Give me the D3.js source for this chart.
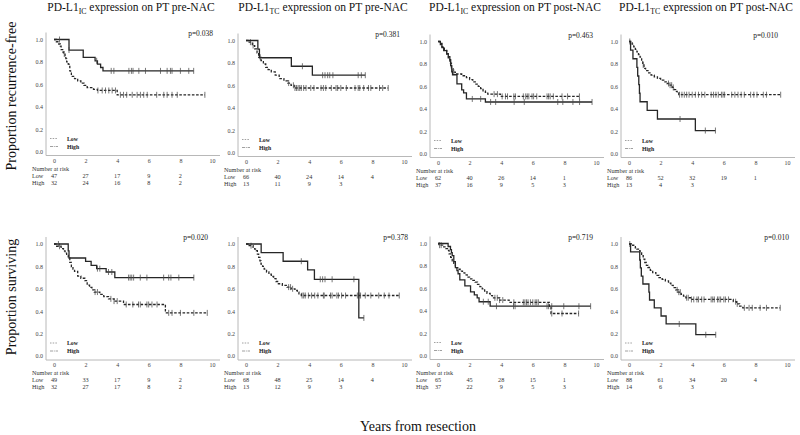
<!DOCTYPE html>
<html><head><meta charset="utf-8">
<script src="https://cdn.jsdelivr.net/npm/d3@7"></script>
<style>
body{margin:0;background:#fff;}
svg{display:block;font-family:"Liberation Serif","Times New Roman",serif;}
</style></head><body>
<svg id="c" width="800" height="435"></svg>
<script>
// ---------------- DATA ----------------
const titleSubs = ["IC","TC","IC","TC"];
const titleSuffix = [" expression on PT pre-NAC"," expression on PT pre-NAC"," expression on PT post-NAC"," expression on PT post-NAC"];
const rowTitles = ["Proportion recurrence-free","Proportion surviving"];
const xTitle = "Years from resection";
const pValues = ["p=0.038","p=0.381","p=0.463","p=0.010","p=0.020","p=0.378","p=0.719","p=0.010"];
const xTicks = [0,2,4,6,8,10];
const yTicks = [0,0.2,0.4,0.6,0.8,1.0];
const riskTimes = [0,2,4,6,8];
const groupNames = ["Low","High"];
const riskLow = [[47,27,17,9,2],[66,40,24,14,4],[62,40,26,14,1],[86,52,32,19,1],[49,33,17,9,2],[68,48,25,14,4],[65,45,28,15,1],[88,61,34,20,4]];
const riskHigh = [[32,24,16,8,2],[13,11,9,3],[37,16,9,5,3],[13,4,3],[32,27,17,8,2],[13,12,9,3],[37,22,9,5,3],[14,6,3]];

// step curves: [time of event, survival after event]; censor times
const p1Low = [[0.15,0.98],[0.3,0.96],[0.4,0.94],[0.45,0.91],[0.55,0.89],[0.6,0.87],[0.7,0.85],[0.75,0.83],[0.8,0.80],[0.9,0.78],[0.95,0.76],[1.0,0.72],[1.05,0.70],[1.1,0.67],[1.3,0.65],[1.5,0.63],[1.7,0.61],[1.9,0.59],[2.1,0.57],[2.5,0.555],[2.75,0.545],[4.0,0.506]];
const p1LowCens = [0.65,2.78,3.05,3.26,3.47,3.68,3.89,4.2,4.4,4.6,4.95,5.26,5.47,5.68,5.9,6.5,6.95,7.16,7.47,7.8,9.55];
const p1High = [[0.95,0.906],[1.85,0.84],[2.6,0.81],[2.75,0.78],[2.95,0.75],[3.1,0.72]];
const p1HighCens = [0.35,0.95,2.7,3.62,3.79,4.74,4.9,5.0,5.37,5.79,6.74,7.16,7.37,7.47,8.0,8.53,8.84];

const p2Low = [[0.2,0.985],[0.4,0.955],[0.55,0.925],[0.7,0.89],[0.8,0.85],[0.95,0.82],[1.1,0.79],[1.25,0.76],[1.4,0.74],[1.6,0.72],[1.85,0.69],[2.1,0.66],[2.4,0.64],[2.65,0.62],[2.85,0.6],[3.05,0.576]];
const p2LowCens = [0.28,0.45,0.9,2.7,3.0,3.1,3.2,3.3,3.4,3.5,3.65,3.8,4.1,4.3,4.75,4.9,5.05,5.4,5.7,5.8,6.0,6.35,6.9,7.1,7.2,7.45,7.75,7.9,8.45,8.65,9.0];
const p2High = [[0.75,0.923],[0.85,0.846],[2.87,0.77],[4.2,0.69]];
const p2HighCens = [3.57,4.85,5.0,5.17,5.3,5.5,7.1,7.3,7.55];

const p3Low = [[0.1,0.984],[0.25,0.952],[0.4,0.92],[0.55,0.887],[0.65,0.855],[0.75,0.806],[0.85,0.758],[0.95,0.726],[1.1,0.71],[1.5,0.694],[1.8,0.677],[2.0,0.66],[2.2,0.64],[2.4,0.62],[2.55,0.6],[2.7,0.58],[2.85,0.56],[3.0,0.545],[3.15,0.53],[3.95,0.51]];
const p3LowCens = [0.8,1.0,3.55,3.76,4.06,4.27,4.4,4.8,4.9,5.4,5.55,5.65,5.75,5.95,6.05,6.25,6.9,7.0,7.1,7.3,7.85,8.2,8.95];
const p3High = [[0.15,0.973],[0.25,0.946],[0.36,0.919],[0.55,0.892],[0.65,0.865],[0.75,0.838],[0.8,0.784],[0.87,0.73],[0.92,0.703],[1.2,0.622],[1.5,0.568],[1.62,0.541],[1.8,0.487],[3.0,0.46]];
const p3HighCens = [2.17,2.7,3.33,3.65,4.82,5.46,7.58,7.9,8.54,8.96,9.75];

const p4Low = [[0.1,0.988],[0.2,0.977],[0.3,0.953],[0.4,0.93],[0.5,0.907],[0.6,0.884],[0.7,0.86],[0.8,0.826],[0.87,0.79],[0.95,0.76],[1.05,0.74],[1.2,0.72],[1.4,0.70],[1.6,0.685],[1.8,0.67],[2.0,0.655],[2.2,0.64],[2.4,0.625],[2.6,0.61],[2.75,0.59],[2.85,0.57],[2.95,0.555],[3.05,0.54],[3.15,0.525]];
const p4LowCens = [0.05,0.9,2.5,2.6,2.7,2.8,3.2,3.35,3.5,3.65,3.8,4.0,4.2,4.4,4.6,4.8,5.2,5.35,5.5,5.65,5.85,5.95,6.05,6.5,6.7,6.9,7.1,7.3,7.7,7.9,8.1,8.5,8.7,9.6];
const p4High = [[0.1,0.923],[0.25,0.846],[0.5,0.769],[0.55,0.692],[0.62,0.615],[0.66,0.538],[0.7,0.462],[1.15,0.385],[1.8,0.308],[4.2,0.205]];
const p4HighCens = [3.23,4.83,5.47];

const p5Low = [[0.17,0.98],[0.45,0.959],[0.6,0.938],[0.7,0.918],[0.8,0.898],[0.9,0.877],[1.0,0.836],[1.1,0.795],[1.2,0.775],[1.3,0.755],[1.5,0.714],[1.7,0.694],[1.95,0.673],[2.1,0.632],[2.25,0.612],[2.4,0.591],[2.55,0.571],[2.9,0.55],[3.15,0.53],[3.45,0.51],[3.8,0.49],[4.4,0.46],[7.05,0.385]];
const p5LowCens = [0.35,2.6,2.75,3.6,3.8,4.0,4.57,4.99,5.35,5.46,5.88,5.99,6.2,6.52,7.26,7.47,8.0,8.85,9.7];
const p5High = [[0.9,0.938],[0.95,0.875],[2.0,0.844],[2.35,0.81],[2.7,0.78],[3.3,0.75],[3.85,0.70]];
const p5HighCens = [0.28,2.75,2.9,3.45,3.66,4.72,4.82,4.92,5.04,5.46,5.88,6.94,7.26,7.4,7.9,8.85];

const p6Low = [[0.2,0.985],[0.45,0.97],[0.55,0.955],[0.65,0.94],[0.72,0.91],[0.8,0.88],[0.88,0.85],[0.95,0.82],[1.05,0.8],[1.15,0.775],[1.3,0.75],[1.45,0.73],[1.6,0.71],[1.75,0.69],[1.9,0.665],[2.05,0.645],[2.3,0.63],[2.6,0.615],[2.85,0.6],[3.1,0.585],[3.25,0.57],[3.35,0.555],[3.5,0.54]];
const p6LowCens = [0.32,2.7,2.82,2.95,3.55,3.65,3.75,3.95,4.15,4.35,4.55,4.9,4.95,5.35,5.45,5.75,5.85,6.05,6.3,7.05,7.15,7.25,7.55,7.9,8.4,8.75,9.05,9.7];
const p6High = [[0.96,0.923],[2.35,0.846],[3.9,0.769],[4.33,0.685],[7.14,0.34]];
const p6HighCens = [3.5,4.7,4.85,5.0,5.45,6.83,7.46];

const p7Low = [[0.06,0.985],[0.3,0.97],[0.5,0.954],[0.6,0.938],[0.7,0.908],[0.8,0.877],[0.9,0.846],[1.0,0.815],[1.1,0.785],[1.25,0.77],[1.4,0.754],[1.55,0.738],[1.7,0.72],[1.85,0.70],[2.0,0.685],[2.2,0.67],[2.35,0.655],[2.5,0.635],[2.65,0.615],[2.8,0.595],[2.95,0.575],[3.1,0.555],[3.3,0.535],[3.45,0.515],[3.9,0.495],[4.5,0.475],[7.05,0.43],[7.15,0.375]];
const p7LowCens = [0.1,0.2,3.6,3.75,3.9,4.1,4.8,5.4,5.5,5.6,5.7,5.85,6.0,6.15,6.25,6.35,7.2,7.85,8.9];
const p7High = [[0.64,0.973],[0.79,0.946],[0.85,0.919],[0.9,0.892],[1.0,0.838],[1.1,0.784],[1.2,0.757],[1.27,0.73],[1.38,0.676],[1.7,0.622],[2.06,0.568],[2.3,0.541],[2.48,0.514],[2.6,0.48],[3.3,0.44]];
const p7HighCens = [2.87,3.18,3.7,4.78,4.88,6.9,7.0,7.2,7.96,8.92,9.66];

const p8Low = [[0.15,0.989],[0.3,0.977],[0.4,0.966],[0.5,0.955],[0.6,0.94],[0.7,0.92],[0.8,0.895],[0.9,0.865],[1.0,0.835],[1.1,0.81],[1.2,0.79],[1.35,0.765],[1.5,0.745],[1.7,0.72],[1.9,0.70],[2.1,0.685],[2.3,0.67],[2.5,0.65],[2.65,0.63],[2.8,0.61],[2.95,0.59],[3.1,0.57],[3.3,0.55],[3.45,0.535],[3.6,0.52],[3.9,0.505],[6.6,0.485],[6.8,0.465],[7.0,0.445],[7.2,0.43]];
const p8LowCens = [0.05,3.05,3.15,3.25,3.65,3.75,3.95,4.1,4.3,4.4,4.6,4.75,5.2,5.3,5.4,5.6,5.7,5.8,6.0,6.1,6.3,6.75,6.85,7.3,7.6,7.8,8.3,8.7,9.57];
const p8High = [[0.1,0.929],[0.68,0.857],[0.72,0.786],[0.78,0.714],[0.88,0.643],[1.26,0.571],[1.3,0.5],[1.6,0.429],[2.03,0.357],[2.35,0.286],[4.23,0.19]];
const p8HighCens = [3.18,4.86,5.49];

// ---------------- LAYOUT ----------------
const lowCurves = [p1Low,p2Low,p3Low,p4Low,p5Low,p6Low,p7Low,p8Low];
const lowCens = [p1LowCens,p2LowCens,p3LowCens,p4LowCens,p5LowCens,p6LowCens,p7LowCens,p8LowCens];
const highCurves = [p1High,p2High,p3High,p4High,p5High,p6High,p7High,p8High];
const highCens = [p1HighCens,p2HighCens,p3HighCens,p4HighCens,p5HighCens,p6HighCens,p7HighCens,p8HighCens];

const colX0 = [54,246,438,629];
const plotW = 158;
const rowTop = [[39.5,40.5,41.5,41.5],[244,244,243.5,244]];
const plotH = 112;
const pShift = [1,-4,-3,-9,-4,4,-3,2];

const svg = d3.select("#c");

function survAt(steps, t){
  let s = 1;
  for (const [tt,v] of steps){ if (tt <= t) s = v; else break; }
  return s;
}

for (let r=0;r<2;r++){
  for (let c=0;c<4;c++){
    const i = r*4+c;
    const x0 = colX0[c], top = rowTop[r][c], bottom = top+plotH;
    const x = d3.scaleLinear().domain([0,10]).range([x0, x0+plotW]);
    const y = d3.scaleLinear().domain([0,1]).range([bottom, top]);
    const g = svg.append("g");

    // frame lines
    const axisY = bottom + 4;
    g.append("line").attr("x1", x0-8).attr("x2", x0-8).attr("y1", top-7).attr("y2", axisY)
      .attr("stroke","#b8b8b8").attr("stroke-width",1);
    g.append("line").attr("x1", x0-8).attr("x2", x(10)+8).attr("y1", axisY).attr("y2", axisY)
      .attr("stroke","#b8b8b8").attr("stroke-width",1);

    // axes labels
    const xa = g.append("g").attr("transform",`translate(0,${axisY})`)
      .call(d3.axisBottom(x).tickValues(xTicks).tickSize(0).tickPadding(3).tickFormat(d3.format("d")));
    xa.select(".domain").remove();
    xa.selectAll("text").attr("font-size",6).attr("fill","#444").attr("font-family","Liberation Serif, serif");
    const ya = g.append("g").attr("transform",`translate(${x0-10},0)`)
      .call(d3.axisLeft(y).tickValues(yTicks).tickSize(0).tickPadding(1).tickFormat(d3.format(".1f")));
    ya.select(".domain").remove();
    ya.selectAll("text").attr("font-size",6).attr("fill","#444").attr("font-family","Liberation Serif, serif");

    // curves
    const line = d3.line().x(d=>x(d[0])).y(d=>y(d[1])).curve(d3.curveStepAfter);
    const groups = [
      {steps: lowCurves[i], cens: lowCens[i], dash: "2.6,1.6"},
      {steps: highCurves[i], cens: highCens[i], dash: null}
    ];
    groups.forEach(gr=>{
      const lastStep = gr.steps[gr.steps.length-1];
      const tEnd = Math.max(lastStep[0], d3.max(gr.cens));
      const pts = [[0,1], ...gr.steps, [tEnd, lastStep[1]]];
      g.append("path").attr("d", line(pts)).attr("fill","none")
        .attr("stroke","#262626").attr("stroke-width",1.3)
        .attr("stroke-dasharray", gr.dash);
      g.selectAll(null).data(gr.cens).enter().append("line")
        .attr("x1", d=>x(d)).attr("x2", d=>x(d))
        .attr("y1", d=>y(survAt(gr.steps,d))-3).attr("y2", d=>y(survAt(gr.steps,d))+3)
        .attr("stroke","#4a4a4a").attr("stroke-width",0.75);
    });

    // p-value
    g.append("text").attr("x", x(10)+pShift[i]).attr("y", top-4)
      .attr("text-anchor","end").attr("font-size",7.5).attr("fill","#222").text(pValues[i]);

    // legend
    const legY = [bottom-13, bottom-5];
    groupNames.forEach((nm,k)=>{
      g.append("line").attr("x1", x0-4).attr("x2", x0+4).attr("y1", legY[k]).attr("y2", legY[k])
        .attr("stroke","#888").attr("stroke-width",0.8).attr("stroke-dasharray", k===0 ? "1.5,1.2" : "3,0.8,1,0.8");
      g.append("text").attr("x", x0+13).attr("y", legY[k]+2).attr("font-size",5.8)
        .attr("font-weight","bold").attr("fill","#222").text(nm);
    });

    // number at risk
    g.append("text").attr("x", x0-22).attr("y", axisY+15).attr("font-size",6.2).attr("fill","#333").text("Number at risk");
    const rows = [riskLow[i], riskHigh[i]];
    rows.forEach((vals,k)=>{
      const ry = axisY + 22 + k*7;
      g.append("text").attr("x", x0-22).attr("y", ry).attr("font-size",6.2).attr("fill","#333").text(groupNames[k]);
      g.selectAll(null).data(vals).enter().append("text")
        .attr("x",(d,j)=>x(riskTimes[j])).attr("y", ry).attr("text-anchor","middle")
        .attr("font-size",6.2).attr("fill","#333").text(d=>d);
    });

    // titles (top row only)
    if (r===0){
      const t = g.append("text").attr("x", x(5)-2).attr("y", 11).attr("text-anchor","middle")
        .attr("font-size",11.5).attr("fill","#111");
      t.append("tspan").text("PD-L1");
      t.append("tspan").attr("font-size",7.8).attr("dy",2.5).text(titleSubs[c]);
      t.append("tspan").attr("dy",-2.5).text(titleSuffix[c]);
    }
  }
}

// row titles
[96, 297].forEach((cy,k)=>{
  svg.append("text").attr("transform",`translate(16,${cy}) rotate(-90)`).attr("text-anchor","middle")
    .attr("font-size",14).attr("fill","#111").text(rowTitles[k]);
});
svg.append("text").attr("x",418).attr("y",431).attr("text-anchor","middle")
  .attr("font-size",14).attr("fill","#111").text(xTitle);
</script>
</body></html>
